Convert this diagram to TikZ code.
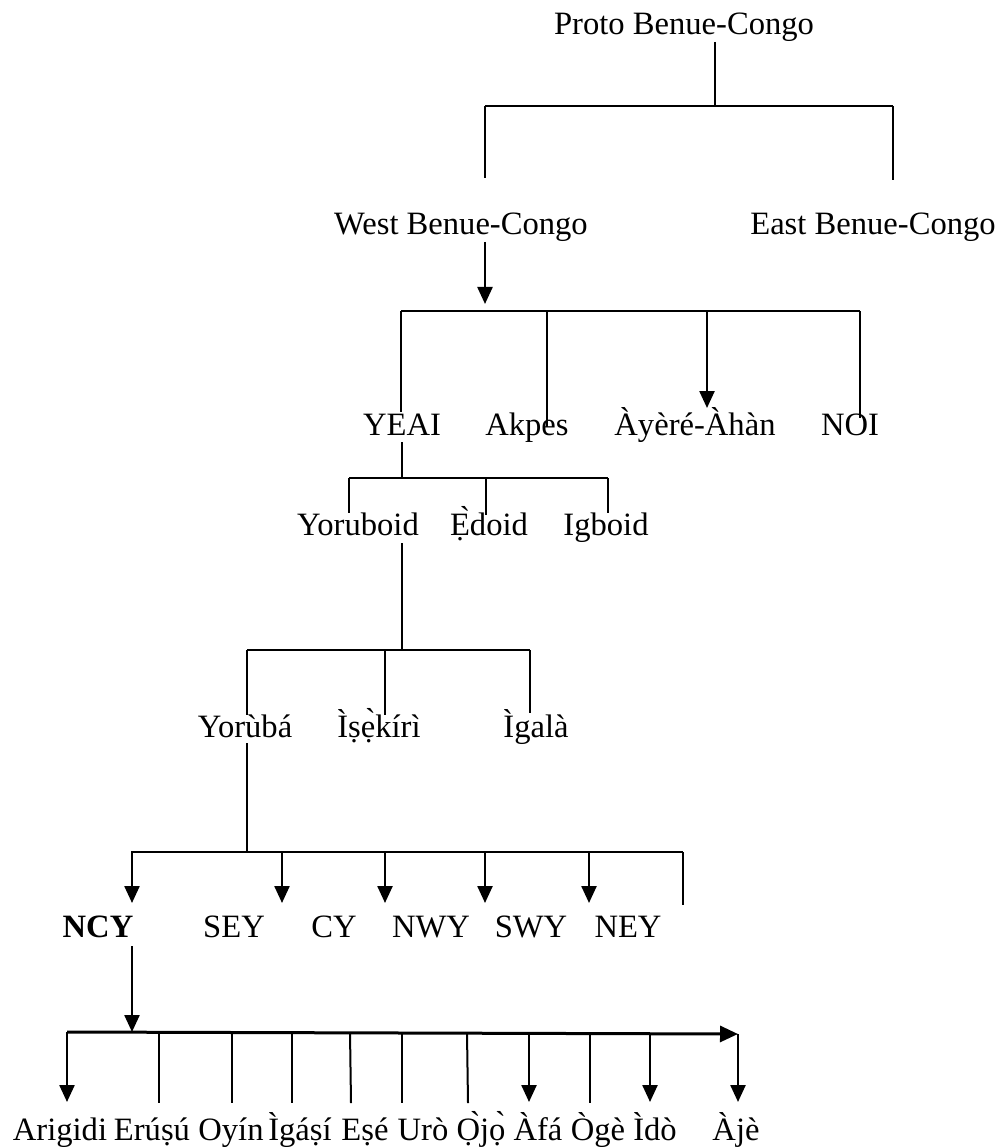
\documentclass[tikz,border=0pt]{standalone}
\usepackage{fontspec}
\setmainfont{Liberation Serif}
\usetikzlibrary{arrows.meta}
\begin{document}
\begin{tikzpicture}[x=1pt,y=-1pt,
  lbl/.style={anchor=base, inner sep=0pt, font=\fontsize{32.6}{39}\selectfont},
  link/.style={line width=2pt},
  bus/.style={line width=2.6pt},
  down/.style={line width=2.4pt, -{Triangle[width=15pt,length=17pt]}},
]
\useasboundingbox (0,0) rectangle (998,1147);

% ---------- labels ----------
\node[lbl] (proto) at (684,35) {Proto Benue-Congo};

\node[lbl] (west) at (461,235) {West Benue-Congo};
\node[lbl] (east) at (873,235) {East Benue-Congo};

\node[lbl] (yeai)  at (402,435) {YEAI};
\node[lbl] (akpes) at (527,435) {Akpes};
\node[lbl] (ayere) at (695,435) {Àyèré-Àhàn};
\node[lbl] (noi)   at (850,435) {NOI};

\node[lbl] (yoruboid) at (358,535) {Yoruboid};
\node[lbl] (edoid)    at (489,535) {Ẹ̀doid};
\node[lbl] (igboid)   at (606,535) {Igboid};

\node[lbl] (yoruba)  at (245,737) {Yorùbá};
\node[lbl] (isekiri) at (379,737) {Ìṣẹ̀kírì};
\node[lbl] (igala)   at (536,737) {Ìgalà};

\node[lbl,font=\fontsize{32.6}{39}\selectfont\bfseries] (ncy) at (98,937) {NCY};
\node[lbl] (sey) at (234,937) {SEY};
\node[lbl] (cy)  at (334,937) {CY};
\node[lbl] (nwy) at (431,937) {NWY};
\node[lbl] (swy) at (531,937) {SWY};
\node[lbl] (ney) at (628,937) {NEY};

\node[lbl] (arigidi) at (60,1140)  {Arigidi};
\node[lbl] (erusu)   at (152,1140) {Erúṣú};
\node[lbl] (oyin)    at (231,1140) {Oyín};
\node[lbl] (igasi)   at (300,1140) {Ìgáṣí};
\node[lbl] (ese)     at (365,1140) {Eṣé};
\node[lbl] (uro)     at (423,1140) {Urò};
\node[lbl] (ojo)     at (481,1140) {Ọ̀jọ̀};
\node[lbl] (afa)     at (538,1140) {Àfá};
\node[lbl] (oge)     at (598,1140) {Ògè};
\node[lbl] (ido)     at (655,1140) {Ìdò};
\node[lbl] (aje)     at (736,1140) {Àjè};

% ---------- Proto Benue-Congo split ----------
\coordinate (p0) at (715,42);
\coordinate (p1) at (715,106);
\coordinate (pl) at (485,106);
\coordinate (pr) at (893,106);
\draw[link] (p0) -- (p1);
\draw[bus] (pl) -- (pr);
\draw[link] (pl) -- (485,178) coordinate (westtop);
\draw[link] (pr) -- (893,180) coordinate (easttop);

% ---------- West Benue-Congo split ----------
\coordinate (w0) at (485,242);
\coordinate (wl) at (401,311);
\coordinate (wr) at (860,311);
\draw[down] (w0) -- (485,304);
\draw[bus] (wl) -- (wr);
\draw[link] (wl) -- (401,412) coordinate (yeaitop);
\draw[link] (547,311) coordinate (akb) -- (547,427) coordinate (akpestop);
\draw[down] (707,311) coordinate (ayb) -- (707,408) coordinate (ayeretop);
\draw[link] (wr) -- (860,418) coordinate (noitop);

% ---------- YEAI split ----------
\coordinate (y0) at (402,442);
\coordinate (yl) at (349,478);
\coordinate (yr) at (608,478);
\draw[link] (y0) -- (402,478);
\draw[bus] (yl) -- (yr);
\draw[link] (yl) -- (349,513) coordinate (yoruboidtop);
\draw[link] (486,478) coordinate (edb) -- (486,515) coordinate (edoidtop);
\draw[link] (yr) -- (608,513) coordinate (igboidtop);

% ---------- Yoruboid split ----------
\coordinate (r0) at (402,543);
\coordinate (rl) at (247,650);
\coordinate (rr) at (530,650);
\draw[link] (r0) -- (402,650);
\draw[bus] (rl) -- (rr);
\draw[link] (rl) -- (247,715) coordinate (yorubatop);
\draw[link] (385,650) coordinate (isb) -- (385,715) coordinate (isekiritop);
\draw[link] (rr) -- (530,713) coordinate (igalatop);

% ---------- Yoruba split ----------
\coordinate (d0) at (247,743);
\coordinate (dl) at (131,852);
\coordinate (dr) at (683,852);
\draw[link] (d0) -- (247,852);
\draw[bus] (dl) -- (dr);
\draw[down] (132,852) -- (132,903) coordinate (ncytop);
\draw[down] (282,852) -- (282,903) coordinate (seytop);
\draw[down] (385,852) -- (385,903) coordinate (cytop);
\draw[down] (485,852) -- (485,903) coordinate (nwytop);
\draw[down] (589,852) -- (589,903) coordinate (swytop);
\draw[link] (dr) -- (683,905) coordinate (neyend);

% ---------- NCY split ----------
\coordinate (n0) at (132,946);
\coordinate (nl) at (67,1032);
\coordinate (nr) at (738,1034);
\draw[down] (n0) -- (132,1032);
\draw[line width=3pt, -{Triangle[width=16pt,length=18pt]}] (nl) -- (nr);
\draw[down] (nl) -- (67,1102) coordinate (arigiditop);
\draw[link] (159,1032) -- (159,1103) coordinate (erusutop);
\draw[link] (232,1032) -- (232,1103) coordinate (oyintop);
\draw[link] (292,1032) -- (292,1103) coordinate (igasitop);
\draw[link] (350,1032) -- (351,1103) coordinate (esetop);
\draw[link] (402,1033) -- (402,1103) coordinate (urotop);
\draw[link] (467,1033) -- (468,1103) coordinate (ojotop);
\draw[down] (529,1033) -- (529,1102) coordinate (afatop);
\draw[link] (590,1033) -- (590,1103) coordinate (ogetop);
\draw[down] (650,1034) -- (650,1102) coordinate (idotop);
\draw[down] (nr) -- (738,1102) coordinate (ajetop);
\end{tikzpicture}
\end{document}
